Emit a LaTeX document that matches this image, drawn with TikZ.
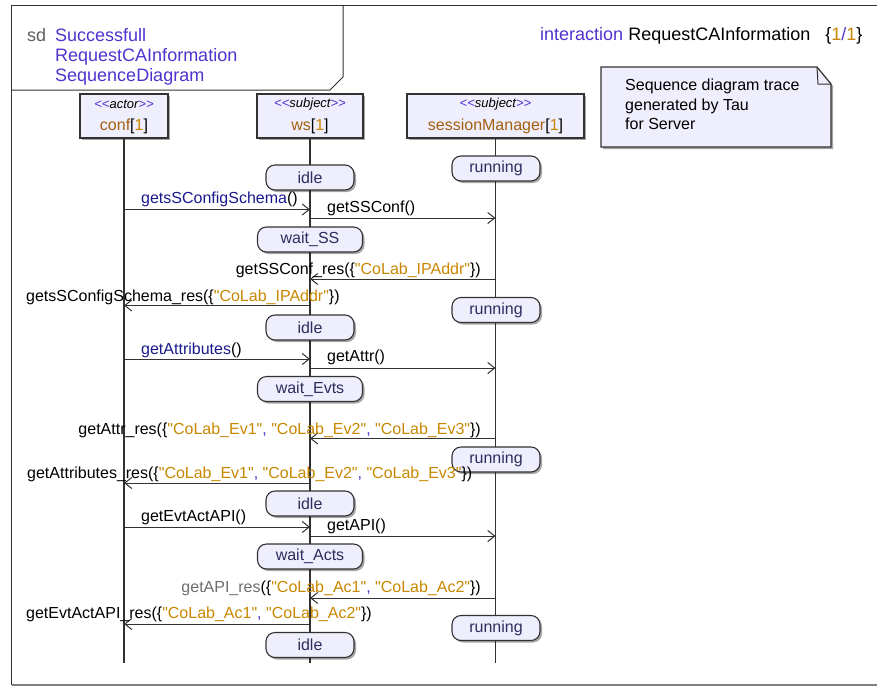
\documentclass[tikz,border=0pt]{standalone}
\usepackage{fontspec}
\setmainfont{Liberation Sans}[Ligatures=TeXOff]
\usetikzlibrary{arrows.meta,shadows}
\definecolor{titleblue}{RGB}{80,50,205}
\definecolor{navyc}{RGB}{25,25,140}
\definecolor{orangec}{RGB}{200,135,0}
\definecolor{brownc}{RGB}{165,95,15}
\definecolor{statefill}{RGB}{238,238,252}
\definecolor{statetext}{RGB}{45,45,95}
\definecolor{linec}{RGB}{50,50,50}
\definecolor{grayc}{RGB}{110,110,110}
\definecolor{sdgray}{RGB}{95,95,95}
\newcommand\ostr[1]{\textcolor{orangec}{"#1"}}
\newcommand\cmm{\textcolor{titleblue}{,} }
\newcommand\onex{[\textcolor{orangec}{1}]}
\newcommand\stereo[1]{\textit{\textcolor{titleblue}{<<}#1\textcolor{titleblue}{>>}}}
\begin{document}
\begin{tikzpicture}[x=1pt,y=-1pt,
  shad/.style={drop shadow={shadow xshift=2pt,shadow yshift=-2pt,fill=black,opacity=0.35}},
  headbox/.style={draw=linec,line width=1.2pt,fill=statefill,minimum height=44pt,inner sep=0pt,shad},
  stereol/.style={font=\fontsize{13}{15}\selectfont,inner sep=0pt},
  lname/.style={font=\fontsize{16}{19}\selectfont,inner sep=0pt},
  life/.style={draw=linec,line width=1.3pt},
  statebox/.style={draw=linec,line width=1.1pt,fill=statefill,rounded corners=9pt,minimum height=25pt,inner sep=0pt,text=statetext,font=\fontsize{16}{19}\selectfont,shad},
  msg/.style={draw=linec,line width=1pt,-{Straight Barb[length=7pt,width=11pt,line width=1pt]}},
  mlabel/.style={font=\fontsize{16}{19}\selectfont,inner sep=0pt},
  titlel/.style={font=\fontsize{18}{21}\selectfont,inner sep=0pt}
]
\useasboundingbox (0,0) rectangle (877,686);
% frame
\draw[line width=1pt,draw=linec] (877,5.5) -- (11.5,5.5) -- (11.5,685);
\draw[line width=1.2pt,draw=black!50] (11.5,685) -- (877,685);
\draw[line width=1pt,draw=linec] (343,5.5) -- (343,77) -- (330,90) -- (11.5,90);
% header texts
\node[titlel,anchor=base west,text=sdgray] (sd) at (27,41.5) {sd};
\node[titlel,anchor=base west,text=titleblue] (t1) at (55,41.5) {Successfull};
\node[titlel,anchor=base west,text=titleblue] (t2) at (55,61.5) {RequestCAInformation};
\node[titlel,anchor=base west,text=titleblue] (t3) at (55,81.5) {SequenceDiagram};
\node[titlel,anchor=base west] (inter) at (540,40.5) {\textcolor{titleblue}{interaction} RequestCAInformation\hspace{10pt} \{\textcolor{orangec}{1}\textcolor{titleblue}{/}\textcolor{orangec}{1}\}};
% note
\fill[black,opacity=0.35] (603,69) -- (819,69) -- (833,86) -- (833,149) -- (603,149) -- cycle;
\draw[draw=linec,line width=1.2pt,fill=statefill] (601,67) -- (817,67) -- (831,84) -- (831,147) -- (601,147) -- cycle;
\draw[draw=linec,line width=1pt] (817,67) -- (818,84) -- (831,84);
\node[mlabel,anchor=base west] (note1) at (625,90.5) {Sequence diagram trace};
\node[mlabel,anchor=base west] (note2) at (625,110.5) {generated by Tau};
\node[mlabel,anchor=base west] (note3) at (625,129.5) {for Server};
% heads
\node[headbox,minimum width=88pt] (conf) at (124,116) {};
\node[headbox,minimum width=106pt] (ws) at (310,116) {};
\node[headbox,minimum width=177pt] (sm) at (495.5,116) {};
\node[stereol] (confst) at (124,104) {\stereo{actor}};
\node[stereol] (wsst) at (310,104) {\stereo{subject}};
\node[stereol] (smst) at (495.5,104) {\stereo{subject}};
\node[lname] (confnm) at (124,126) {\textcolor{brownc}{conf}\onex};
\node[lname] (wsnm) at (310,126) {\textcolor{brownc}{ws}\onex};
\node[lname] (smnm) at (495.5,126) {\textcolor{brownc}{sessionManager}\onex};
% lifelines
\coordinate (bot) at (0,663);
\draw[life] (conf.south) -- (conf.south |- bot);
\draw[life] (ws.south) -- (ws.south |- bot);
\draw[life] (sm.south) -- (sm.south |- bot);
% states
\node[statebox,minimum width=88pt] (i1) at (310,177.5) {idle};
\node[statebox,minimum width=88pt] (r1) at (496,168.5) {running};
\node[statebox,minimum width=105pt] (w1) at (310,239.5) {wait\_SS};
\node[statebox,minimum width=88pt] (r2) at (496,310) {running};
\node[statebox,minimum width=88pt] (i2) at (310,327.5) {idle};
\node[statebox,minimum width=105pt] (w2) at (310,389) {wait\_Evts};
\node[statebox,minimum width=88pt] (r3) at (496,459.5) {running};
\node[statebox,minimum width=88pt] (i3) at (310,503.5) {idle};
\node[statebox,minimum width=105pt] (w3) at (310,556.5) {wait\_Acts};
\node[statebox,minimum width=88pt] (r4) at (496,628) {running};
\node[statebox,minimum width=88pt] (i4) at (310,645) {idle};
% message coordinates
\coordinate (m1) at (0,209.5);
\coordinate (m2) at (0,218);
\coordinate (m3) at (0,279);
\coordinate (m4) at (0,305.5);
\coordinate (m5) at (0,359);
\coordinate (m6) at (0,368);
\coordinate (m7) at (0,438.5);
\coordinate (m8) at (0,483);
\coordinate (m9) at (0,527);
\coordinate (m10) at (0,536);
\coordinate (m11) at (0,598);
\coordinate (m12) at (0,624);
% messages
\draw[msg] (conf |- m1) -- (ws |- m1);
\draw[msg] (ws |- m2) -- (sm |- m2);
\draw[msg] (sm |- m3) -- (ws |- m3);
\draw[msg] (ws |- m4) -- (conf |- m4);
\draw[msg] (conf |- m5) -- (ws |- m5);
\draw[msg] (ws |- m6) -- (sm |- m6);
\draw[msg] (sm |- m7) -- (ws |- m7);
\draw[msg] (ws |- m8) -- (conf |- m8);
\draw[msg] (conf |- m9) -- (ws |- m9);
\draw[msg] (ws |- m10) -- (sm |- m10);
\draw[msg] (sm |- m11) -- (ws |- m11);
\draw[msg] (ws |- m12) -- (conf |- m12);
% labels
\node[mlabel,anchor=base west] (l1) at (141,203.5) {\textcolor{navyc}{getsSConfigSchema}()};
\node[mlabel,anchor=base west] (l2) at (327,212.5) {getSSConf()};
\node[mlabel,anchor=base east] (l3) at (481,274) {getSSConf\_res(\{\ostr{CoLab\_IPAddr}\})};
\node[mlabel,anchor=base west] (l4) at (26,301) {getsSConfigSchema\_res(\{\ostr{CoLab\_IPAddr}\})};
\node[mlabel,anchor=base west] (l5) at (141,354.5) {\textcolor{navyc}{getAttributes}()};
\node[mlabel,anchor=base west] (l6) at (327,361.5) {getAttr()};
\node[mlabel,anchor=base east] (l7) at (481,434.5) {getAttr\_res(\{\ostr{CoLab\_Ev1}\cmm\ostr{CoLab\_Ev2}\cmm\ostr{CoLab\_Ev3}\})};
\node[mlabel,anchor=base west] (l8) at (27,478.5) {getAttributes\_res(\{\ostr{CoLab\_Ev1}\cmm\ostr{CoLab\_Ev2}\cmm\ostr{CoLab\_Ev3}\})};
\node[mlabel,anchor=base west] (l9) at (141,521.5) {getEvtActAPI()};
\node[mlabel,anchor=base west] (l10) at (327,530.5) {getAPI()};
\node[mlabel,anchor=base east] (l11) at (481,592.5) {\textcolor{grayc}{getAPI\_res}(\{\ostr{CoLab\_Ac1}\cmm\ostr{CoLab\_Ac2}\})};
\node[mlabel,anchor=base west] (l12) at (26,618.5) {getEvtActAPI\_res(\{\ostr{CoLab\_Ac1}\cmm\ostr{CoLab\_Ac2}\})};
\end{tikzpicture}
\end{document}
